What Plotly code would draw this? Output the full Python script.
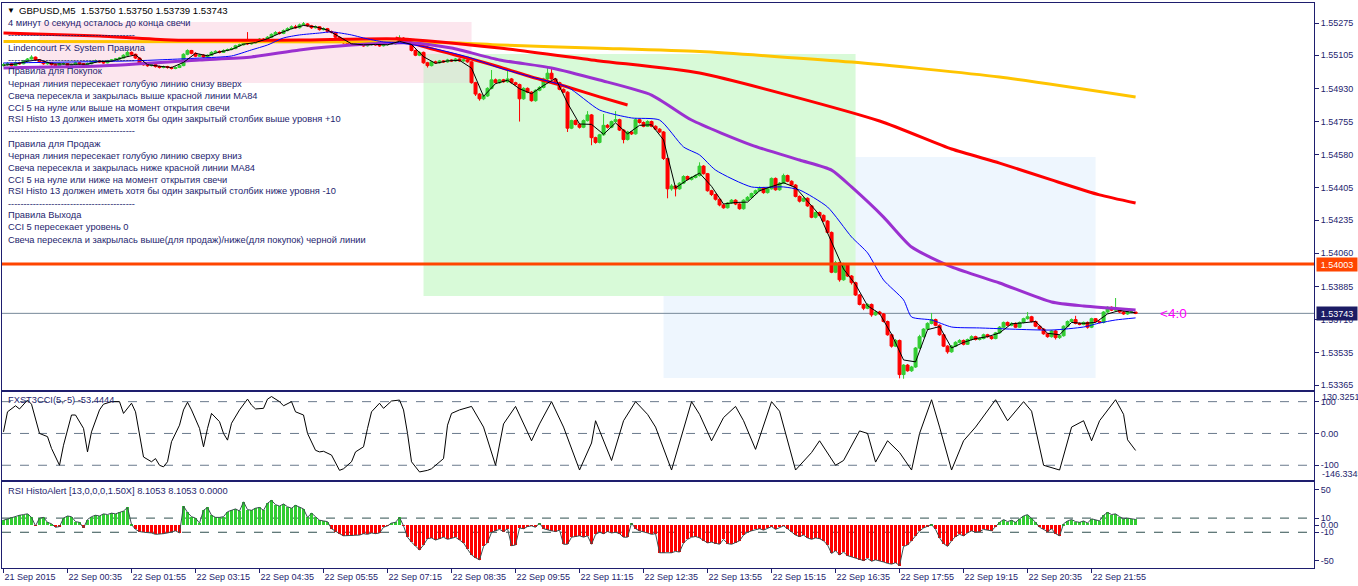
import plotly.graph_objects as go

# ---------------- DATA ----------------
N_BARS = 284
bars = list(range(N_BARS))  # M5 bars, bar 0 = 21 Sep 23:15

opens = [1.55050,1.55055,1.55060,1.55050,1.55065,1.55060,1.55075,1.55085,1.55095,1.55080,
1.55070,1.55060,1.55065,1.55055,1.55050,1.55060,1.55060,1.55050,1.55055,1.55065,
1.55060,1.55055,1.55060,1.55070,1.55075,1.55070,1.55065,1.55075,1.55080,1.55085,
1.55090,1.55105,1.55120,1.55110,1.55090,1.55060,1.55055,1.55050,1.55055,1.55045,
1.55040,1.55045,1.55040,1.55035,1.55040,1.55050,1.55110,1.55130,1.55115,1.55100,
1.55105,1.55095,1.55105,1.55120,1.55125,1.55120,1.55130,1.55135,1.55140,1.55155,
1.55160,1.55175,1.55165,1.55170,1.55180,1.55190,1.55185,1.55200,1.55215,1.55225,
1.55220,1.55235,1.55245,1.55255,1.55250,1.55265,1.55270,1.55260,1.55250,1.55255,
1.55240,1.55245,1.55230,1.55225,1.55200,1.55185,1.55170,1.55165,1.55160,1.55165,
1.55160,1.55155,1.55160,1.55165,1.55160,1.55155,1.55160,1.55165,1.55165,1.55175,
1.55195,1.55180,1.55175,1.55130,1.55105,1.55120,1.55065,1.55050,1.55070,1.55065,
1.55075,1.55070,1.55080,1.55075,1.55085,1.55075,1.55080,1.55070,1.54960,1.54900,
1.54875,1.54890,1.54930,1.54975,1.54960,1.54975,1.54965,1.54980,1.54960,1.54950,
1.54875,1.54930,1.54910,1.54865,1.54920,1.54935,1.54980,1.55010,1.54980,1.54960,
1.54925,1.54910,1.54720,1.54760,1.54740,1.54725,1.54760,1.54790,1.54670,1.54645,
1.54685,1.54735,1.54725,1.54755,1.54765,1.54710,1.54660,1.54700,1.54690,1.54765,
1.54750,1.54730,1.54755,1.54730,1.54715,1.54700,1.54560,1.54400,1.54415,1.54400,
1.54430,1.54465,1.54450,1.54460,1.54470,1.54520,1.54480,1.54390,1.54370,1.54345,
1.54315,1.54300,1.54325,1.54340,1.54320,1.54295,1.54340,1.54355,1.54375,1.54390,
1.54405,1.54380,1.54400,1.54455,1.54395,1.54430,1.54470,1.54440,1.54420,1.54360,
1.54335,1.54350,1.54310,1.54250,1.54275,1.54260,1.54230,1.54170,1.53960,1.54010,
1.53920,1.54000,1.53940,1.53905,1.53840,1.53790,1.53770,1.53790,1.53735,1.53750,
1.53740,1.53700,1.53630,1.53570,1.53600,1.53420,1.53470,1.53440,1.53460,1.53560,
1.53620,1.53660,1.53690,1.53710,1.53680,1.53630,1.53570,1.53540,1.53570,1.53590,
1.53600,1.53580,1.53605,1.53620,1.53605,1.53610,1.53630,1.53620,1.53610,1.53640,
1.53670,1.53695,1.53680,1.53690,1.53670,1.53695,1.53715,1.53725,1.53700,1.53675,
1.53660,1.53635,1.53620,1.53650,1.53615,1.53625,1.53675,1.53700,1.53710,1.53690,
1.53685,1.53695,1.53670,1.53715,1.53700,1.53695,1.53750,1.53775,1.53760,1.53765,
1.53750,1.53740,1.53750,1.53750]

highs = [1.55065,1.55068,1.55065,1.55072,1.55070,1.55080,1.55090,1.55105,1.55098,1.55085,
1.55075,1.55070,1.55068,1.55060,1.55065,1.55066,1.55063,1.55060,1.55070,1.55068,
1.55063,1.55066,1.55075,1.55082,1.55078,1.55074,1.55080,1.55085,1.55090,1.55096,
1.55110,1.55128,1.55125,1.55113,1.55093,1.55066,1.55060,1.55060,1.55058,1.55050,
1.55050,1.55049,1.55045,1.55046,1.55056,1.55115,1.55136,1.55133,1.55120,1.55112,
1.55110,1.55110,1.55126,1.55131,1.55130,1.55136,1.55140,1.55147,1.55160,1.55166,
1.55180,1.55227,1.55176,1.55185,1.55196,1.55195,1.55206,1.55220,1.55232,1.55230,
1.55241,1.55252,1.55262,1.55265,1.55272,1.55280,1.55274,1.55265,1.55262,1.55258,
1.55252,1.55249,1.55235,1.55228,1.55204,1.55189,1.55175,1.55170,1.55170,1.55169,
1.55165,1.55165,1.55170,1.55169,1.55164,1.55166,1.55170,1.55171,1.55180,1.55210,
1.55200,1.55185,1.55178,1.55135,1.55126,1.55124,1.55070,1.55075,1.55076,1.55080,
1.55079,1.55086,1.55084,1.55090,1.55088,1.55086,1.55084,1.55073,1.54965,1.54905,
1.54897,1.54936,1.55027,1.54982,1.54980,1.54980,1.55025,1.54985,1.54965,1.54955,
1.54936,1.54935,1.54915,1.54925,1.54942,1.54986,1.55040,1.55040,1.54985,1.54965,
1.54930,1.54915,1.54765,1.54766,1.54745,1.54766,1.54810,1.54795,1.54675,1.54690,
1.54795,1.54742,1.54760,1.54810,1.54770,1.54715,1.54706,1.54705,1.54772,1.54770,
1.54756,1.54762,1.54760,1.54735,1.54720,1.54705,1.54565,1.54425,1.54420,1.54435,
1.54472,1.54470,1.54466,1.54476,1.54540,1.54525,1.54484,1.54395,1.54375,1.54350,
1.54320,1.54330,1.54346,1.54345,1.54324,1.54345,1.54362,1.54380,1.54396,1.54412,
1.54410,1.54406,1.54460,1.54460,1.54436,1.54480,1.54475,1.54445,1.54425,1.54365,
1.54356,1.54355,1.54315,1.54280,1.54280,1.54265,1.54235,1.54175,1.54020,1.54015,
1.54010,1.54005,1.53945,1.53910,1.53845,1.53795,1.53796,1.53795,1.53758,1.53756,
1.53745,1.53705,1.53635,1.53608,1.53605,1.53475,1.53476,1.53466,1.53565,1.53630,
1.53665,1.53696,1.53745,1.53715,1.53685,1.53635,1.53575,1.53576,1.53596,1.53607,
1.53605,1.53610,1.53627,1.53625,1.53616,1.53636,1.53635,1.53625,1.53645,1.53676,
1.53700,1.53700,1.53696,1.53695,1.53700,1.53720,1.53750,1.53730,1.53705,1.53680,
1.53665,1.53640,1.53656,1.53655,1.53630,1.53680,1.53706,1.53716,1.53730,1.53695,
1.53700,1.53700,1.53720,1.53718,1.53705,1.53755,1.53780,1.53780,1.53824,1.53770,
1.53755,1.53755,1.53756,1.53750]

lows = [1.55045,1.55050,1.55045,1.55047,1.55055,1.55057,1.55070,1.55082,1.55075,1.55065,
1.55055,1.55055,1.55050,1.55043,1.55047,1.55054,1.55045,1.55046,1.55052,1.55055,
1.55050,1.55052,1.55057,1.55066,1.55065,1.55060,1.55062,1.55071,1.55076,1.55081,
1.55087,1.55100,1.55105,1.55085,1.55055,1.55050,1.55044,1.55046,1.55040,1.55035,
1.55036,1.55034,1.55030,1.55031,1.55037,1.55047,1.55105,1.55110,1.55095,1.55096,
1.55090,1.55090,1.55102,1.55116,1.55115,1.55117,1.55126,1.55131,1.55137,1.55150,
1.55156,1.55160,1.55161,1.55166,1.55176,1.55180,1.55182,1.55196,1.55211,1.55214,
1.55216,1.55231,1.55241,1.55245,1.55246,1.55260,1.55255,1.55244,1.55246,1.55235,
1.55236,1.55225,1.55220,1.55195,1.55180,1.55165,1.55160,1.55155,1.55156,1.55155,
1.55150,1.55151,1.55156,1.55155,1.55150,1.55151,1.55156,1.55159,1.55161,1.55171,
1.55175,1.55168,1.55125,1.55100,1.55100,1.55060,1.55040,1.55046,1.55060,1.55061,
1.55065,1.55066,1.55070,1.55071,1.55070,1.55071,1.55065,1.54955,1.54890,1.54865,
1.54868,1.54885,1.54925,1.54955,1.54955,1.54960,1.54960,1.54955,1.54944,1.54755,
1.54870,1.54905,1.54860,1.54860,1.54915,1.54930,1.54975,1.54975,1.54955,1.54920,
1.54905,1.54700,1.54715,1.54735,1.54718,1.54720,1.54755,1.54630,1.54638,1.54640,
1.54680,1.54718,1.54720,1.54750,1.54705,1.54640,1.54655,1.54684,1.54686,1.54744,
1.54725,1.54726,1.54725,1.54710,1.54694,1.54552,1.54350,1.54390,1.54360,1.54395,
1.54425,1.54444,1.54444,1.54455,1.54465,1.54475,1.54385,1.54362,1.54338,1.54308,
1.54295,1.54296,1.54320,1.54314,1.54290,1.54290,1.54335,1.54350,1.54370,1.54385,
1.54374,1.54375,1.54396,1.54390,1.54390,1.54425,1.54435,1.54414,1.54355,1.54328,
1.54330,1.54305,1.54245,1.54244,1.54255,1.54225,1.54165,1.53955,1.53955,1.53910,
1.53915,1.53935,1.53895,1.53835,1.53785,1.53760,1.53765,1.53725,1.53730,1.53735,
1.53695,1.53625,1.53562,1.53565,1.53400,1.53398,1.53435,1.53434,1.53455,1.53555,
1.53615,1.53655,1.53685,1.53675,1.53625,1.53565,1.53530,1.53535,1.53565,1.53585,
1.53574,1.53576,1.53600,1.53600,1.53600,1.53606,1.53615,1.53604,1.53606,1.53636,
1.53665,1.53675,1.53675,1.53665,1.53666,1.53690,1.53710,1.53695,1.53670,1.53655,
1.53630,1.53614,1.53615,1.53605,1.53608,1.53620,1.53670,1.53695,1.53685,1.53680,
1.53680,1.53662,1.53665,1.53695,1.53690,1.53690,1.53745,1.53755,1.53755,1.53745,
1.53735,1.53735,1.53744,1.53739]

closes = [1.55055,1.55060,1.55050,1.55065,1.55060,1.55075,1.55085,1.55095,1.55080,1.55070,
1.55060,1.55065,1.55055,1.55050,1.55060,1.55060,1.55050,1.55055,1.55065,1.55060,
1.55055,1.55060,1.55070,1.55075,1.55070,1.55065,1.55075,1.55080,1.55085,1.55090,
1.55105,1.55120,1.55110,1.55090,1.55060,1.55055,1.55050,1.55055,1.55045,1.55040,
1.55045,1.55040,1.55035,1.55040,1.55050,1.55110,1.55130,1.55115,1.55100,1.55105,
1.55095,1.55105,1.55120,1.55125,1.55120,1.55130,1.55135,1.55140,1.55155,1.55160,
1.55175,1.55165,1.55170,1.55180,1.55190,1.55185,1.55200,1.55215,1.55225,1.55220,
1.55235,1.55245,1.55255,1.55250,1.55265,1.55270,1.55260,1.55250,1.55255,1.55240,
1.55245,1.55230,1.55225,1.55200,1.55185,1.55170,1.55165,1.55160,1.55165,1.55160,
1.55155,1.55160,1.55165,1.55160,1.55155,1.55160,1.55165,1.55165,1.55175,1.55195,
1.55180,1.55175,1.55130,1.55105,1.55120,1.55065,1.55050,1.55070,1.55065,1.55075,
1.55070,1.55080,1.55075,1.55085,1.55075,1.55080,1.55070,1.54960,1.54900,1.54875,
1.54890,1.54930,1.54975,1.54960,1.54975,1.54965,1.54980,1.54960,1.54950,1.54875,
1.54930,1.54910,1.54865,1.54920,1.54935,1.54980,1.55010,1.54980,1.54960,1.54925,
1.54910,1.54720,1.54760,1.54740,1.54725,1.54760,1.54790,1.54670,1.54645,1.54685,
1.54735,1.54725,1.54755,1.54765,1.54710,1.54660,1.54700,1.54690,1.54765,1.54750,
1.54730,1.54755,1.54730,1.54715,1.54700,1.54560,1.54400,1.54415,1.54400,1.54430,
1.54465,1.54450,1.54460,1.54470,1.54520,1.54480,1.54390,1.54370,1.54345,1.54315,
1.54300,1.54325,1.54340,1.54320,1.54295,1.54340,1.54355,1.54375,1.54390,1.54405,
1.54380,1.54400,1.54455,1.54395,1.54430,1.54470,1.54440,1.54420,1.54360,1.54335,
1.54350,1.54310,1.54250,1.54275,1.54260,1.54230,1.54170,1.53960,1.54010,1.53920,
1.54000,1.53940,1.53905,1.53840,1.53790,1.53770,1.53790,1.53735,1.53750,1.53740,
1.53700,1.53630,1.53570,1.53600,1.53420,1.53470,1.53440,1.53460,1.53560,1.53620,
1.53660,1.53690,1.53710,1.53680,1.53630,1.53570,1.53540,1.53570,1.53590,1.53600,
1.53580,1.53605,1.53620,1.53605,1.53610,1.53630,1.53620,1.53610,1.53640,1.53670,
1.53695,1.53680,1.53690,1.53670,1.53695,1.53715,1.53725,1.53700,1.53675,1.53660,
1.53635,1.53620,1.53650,1.53615,1.53625,1.53675,1.53700,1.53710,1.53690,1.53685,
1.53695,1.53670,1.53715,1.53700,1.53695,1.53750,1.53775,1.53760,1.53765,1.53750,
1.53740,1.53750,1.53750,1.53743]

# Moving averages (values read at bar positions)
gold_bar = [0, 99, 114, 124, 149, 174, 212, 249, 283]
gold_val = [1.55178, 1.55175, 1.55170, 1.55159, 1.55142, 1.55124, 1.55069, 1.54990, 1.54885]

red_bar = [0, 8, 24, 42, 74, 99, 124, 149, 174, 219, 237, 249, 262, 274, 283]
red_val = [1.55222, 1.55217, 1.55206, 1.55185, 1.55185, 1.55191, 1.55143, 1.55075, 1.55011,
           1.54758, 1.54610, 1.54536, 1.54447, 1.54368, 1.54325]

red2_bar = [98, 108, 116, 124, 132, 141, 149, 156]
red2_val = [1.55196, 1.55133, 1.55090, 1.55043, 1.54990, 1.54937, 1.54885, 1.54842]

purple_bar = [0, 24, 49, 62, 74, 87, 102, 112, 124, 137, 149, 162, 172, 187, 199, 207, 212,
              220, 227, 237, 249, 262, 270, 283]
purple_val = [1.55038, 1.55048, 1.55080, 1.55096, 1.55133, 1.55159, 1.55170, 1.55143, 1.55080,
              1.55038, 1.54974, 1.54895, 1.54763, 1.54631, 1.54552, 1.54499, 1.54410, 1.54251,
              1.54093, 1.53988, 1.53903, 1.53803, 1.53782, 1.53761]

blue_bar = [0, 32, 49, 57, 62, 66, 70, 74, 79, 82, 87, 90, 95, 99, 107, 116, 124, 132, 141, 149,
            157, 164, 170, 174, 178, 187, 195, 199, 206, 212, 216, 220, 225, 227, 232, 237, 244,
            262, 270, 274, 278, 283]
blue_val = [1.55064, 1.55075, 1.55090, 1.55101, 1.55133, 1.55159, 1.55196, 1.55212, 1.55222,
            1.55228, 1.55212, 1.55196, 1.55175, 1.55170, 1.55143, 1.55096, 1.55038, 1.54990,
            1.54937, 1.54816, 1.54774, 1.54763, 1.54621, 1.54579, 1.54499, 1.54410, 1.54410,
            1.54394, 1.54304, 1.54146, 1.54062, 1.53919, 1.53814, 1.53724, 1.53708, 1.53671,
            1.53666, 1.53655, 1.53671, 1.53692, 1.53708, 1.53719]

black_bar = [0,3,6,9,12,15,18,21,24,27,30,33,36,39,42,45,48,51,54,57,60,63,66,69,72,75,78,81,
             84,87,90,93,96,99,102,105,108,111,114,117,120,123,126,129,132,135,138,141,144,147,
             150,153,156,159,162,165,168,171,174,177,180,183,186,189,192,195,198,201,204,207,
             210,213,216,219,222,225,228,231,234,237,240,243,246,249,252,255,258,261,264,267,
             270,273,276,279,282,283]
black_val = [1.55052,1.55058,1.55073,1.55082,1.55060,1.55057,1.55057,1.55058,1.55072,1.55073,
             1.55093,1.55107,1.55055,1.55047,1.55040,1.55067,1.55115,1.55102,1.55122,1.55135,
             1.55163,1.55172,1.55192,1.55220,1.55245,1.55262,1.55255,1.55238,1.55203,1.55165,
             1.55160,1.55162,1.55160,1.55178,1.55162,1.55097,1.55062,1.55075,1.55078,1.55037,
             1.54888,1.54955,1.54973,1.54928,1.54902,1.54945,1.54983,1.54852,1.54742,1.54740,
             1.54688,1.54748,1.54690,1.54735,1.54738,1.54658,1.54405,1.54448,1.54483,1.54413,
             1.54320,1.54328,1.54330,1.54390,1.54412,1.54432,1.54407,1.54332,1.54262,1.54120,
             1.53977,1.53895,1.53783,1.53742,1.53633,1.53497,1.53487,1.53657,1.53673,1.53560,
             1.53590,1.53610,1.53620,1.53640,1.53688,1.53693,1.53700,1.53638,1.53630,1.53695,
             1.53690,1.53695,1.53740,1.53758,1.53747,1.53746]

# Session rectangles (bar start, bar end, price top, price bottom)
zone_start = [9, 105, 165]
zone_end = [117, 213, 273]
zone_top = [1.55280, 1.55111, 1.54568]
zone_bottom = [1.54958, 1.53835, 1.53402]

level_price = 1.54003
bid_price = 1.53743

# FXST3CCI(5,-5)
cci_bar = [0,1,3,4,6,7,9,11,12,14,15,17,18,20,21,22,24,25,27,29,30,32,33,34,35,37,38,39,40,41,
           42,44,45,46,47,49,50,51,52,54,55,56,57,59,61,62,63,65,66,67,69,70,72,73,75,76,78,79,
           80,82,84,85,87,88,90,91,92,94,95,97,99,100,101,102,104,106,107,110,111,112,114,117,
           120,123,125,128,132,134,137,140,144,147,148,152,155,158,161,163,167,172,174,177,180,
           183,185,188,192,194,198,202,204,208,210,214,216,218,221,224,227,229,232,234,237,240,
           243,248,251,255,257,260,264,267,270,272,274,278,280,281,283]
cci_val = [5,68,87,77,105,92,0,-10,-47,-100,-37,58,58,16,-58,5,74,92,100,100,63,95,68,-5,-74,
           -89,-79,-100,-105,-89,-26,26,74,98,74,16,-42,16,63,37,0,-21,32,74,108,89,77,79,108,
           116,100,87,100,68,58,0,-53,-58,-56,-68,-116,-111,-89,-58,-42,16,68,95,79,102,105,74,
           0,-89,-121,-116,-111,-79,26,63,74,85,20,-100,30,85,-23,30,100,20,-115,-30,40,-85,40,
           100,60,20,-115,100,60,-23,50,85,40,-50,100,70,-115,-60,-23,-100,-85,8,0,-90,-23,-60,
           -115,0,106,20,-115,-23,20,106,40,100,70,-100,-115,20,40,-23,40,106,60,-20,-53.4444]
cci_max, cci_min = 130.3251, -146.3345
cci_levels = [100, 0, -100]

# RSI HistoAlert(13)
rsi_hist = [7,9,11,12,14,15,16,11,-1,10,
            11,4,2,-3,-2,10,13,12,5,4,
            -4,8,12,14,13,16,15,17,16,18,
            20,25,1,-6,-9,-10,-10,-11,-13,-13,
            -12,-11,-10,-8,-11,27,18,12,10,3,
            21,25,14,11,11,12,19,21,23,20,
            33,22,21,24,25,21,31,35,29,27,
            30,26,24,28,25,23,11,17,12,7,
            6,5,-5,-9,-12,-15,-15,-15,-14,-14,
            -12,-13,-11,-12,-11,-3,-1,3,4,11,
            -1,-17,-24,-30,-35,-28,-19,-18,-21,-19,
            -17,-20,-18,-17,-21,-25,-34,-42,-46,-49,
            -30,-25,-10,-8,-6,-9,-5,-29,-28,-4,
            -5,-2,-1,-3,3,-5,-7,-8,-9,-7,
            -27,-27,-17,-16,-15,-17,-15,-27,-13,-10,
            -12,-9,-11,-10,-12,-17,-17,3,-5,-8,
            -9,-11,-13,-12,-39,-39,-38,-39,-37,-38,
            -25,-20,-17,-16,-18,-22,-25,-24,-26,-27,
            -20,-26,-27,-25,-22,-14,-10,-8,-6,-5,
            -7,-4,-2,-6,-3,-1,-5,-9,-14,-16,
            -14,-18,-20,-18,-19,-22,-28,-40,-36,-42,
            -38,-43,-45,-47,-49,-50,-47,-51,-49,-50,
            -52,-54,-55,-53,-57,-30,-28,-22,-15,-8,
            -4,-2,1,-6,-18,-26,-30,-22,-16,-13,
            -15,-11,-8,-10,-9,-6,-7,-8,-2,4,
            8,5,7,4,9,13,15,10,4,-3,
            -6,-9,-5,-12,-15,2,6,8,5,4,
            6,3,9,7,6,14,18,15,16,12,
            9,10,9,8.1053]
rsi_levels = [10, -10]

# Axis ticks
price_ticks = [1.55275, 1.55105, 1.54930, 1.54755, 1.54580, 1.54405, 1.54235, 1.54060,
               1.53885, 1.53710, 1.53535, 1.53365]
time_tick_bars = [0, 16, 32, 48, 64, 80, 96, 112, 128, 144, 160, 176, 192, 208, 224, 240, 256, 272]
time_tick_labels = ["21 Sep 2015", "22 Sep 00:35", "22 Sep 01:55", "22 Sep 03:15", "22 Sep 04:35",
                    "22 Sep 05:55", "22 Sep 07:15", "22 Sep 08:35", "22 Sep 09:55", "22 Sep 11:15",
                    "22 Sep 12:35", "22 Sep 13:55", "22 Sep 15:15", "22 Sep 16:35", "22 Sep 17:55",
                    "22 Sep 19:15", "22 Sep 20:35", "22 Sep 21:55"]
rsi_ticks = [50, 10, 0, -10, -50]
rsi_tick_text = ["50", "10", "0.00", "-10", "-50"]

header_text = "GBPUSD,M5  1.53750 1.53750 1.53739 1.53743"
info_lines = [
    "4 минут 0 секунд осталось до конца свечи",
    "-----------------------------------------",
    "Lindencourt FX System Правила",
    "-----------------------------------------",
    "Правила для Покупок",
    "Черная линия пересекает голубую линию снизу вверх",
    "Свеча пересекла и закрылась выше красной линии MA84",
    "CCI 5 на нуле или выше на момент открытия свечи",
    "RSI Histo 13 должен иметь хотя бы один закрытый столбик выше уровня +10",
    "-----------------------------------------",
    "Правила для Продаж",
    "Черная линия пересекает голубую линию сверху вниз",
    "Свеча пересекла и закрылась ниже красной линии MA84",
    "CCI 5 на нуле или ниже на момент открытия свечи",
    "RSI Histo 13 должен иметь хотя бы один закрытый столбик ниже уровня -10",
    "-----------------------------------------",
    "Правила Выхода",
    "CCI 5 пересекает уровень 0",
    "Свеча пересекла и закрылась выше(для продаж)/ниже(для покупок) черной линии",
]
cci_label = "FXST3CCI(5,-5) -53.4444"
rsi_label = "RSI HistoAlert [13,0,0,0,1.50X] 8.1053 8.1053 0.0000"
timer_text = "<4:0"

# ---------------- STYLE ----------------
W, H = 1358, 586
FONT = "Liberation Sans, Arial, sans-serif"
NAVY = "#1e1e6e"
GREEN = "#32CD32"
RED = "#FF0000"
ZONE_COLORS = ["#FCE6EE", "#D8FAD8", "#EEF6FE"]
OVERLAP_COLOR = "#DCEBD8"

def px(x):
    return x / W

def py(y):
    return 1 - y / H

X_RANGE = [-0.375, 327.6]
XDOM = [px(2), px(1314)]

fig = go.Figure()

for k in [2, 1, 0]:
    fig.add_shape(type="rect", xref="x", yref="y", x0=zone_start[k], x1=zone_end[k],
                  y0=zone_bottom[k], y1=zone_top[k], fillcolor=ZONE_COLORS[k],
                  line_width=0, layer="below")
fig.add_shape(type="rect", xref="x", yref="y",
              x0=max(zone_start[0], zone_start[1]), x1=min(zone_end[0], zone_end[1]),
              y0=max(zone_bottom[0], zone_bottom[1]), y1=min(zone_top[0], zone_top[1]),
              fillcolor=OVERLAP_COLOR, line_width=0, layer="below")
# bid line (data-referenced so it is drawn above the session boxes)
fig.add_shape(type="line", xref="x", yref="y", x0=X_RANGE[0], x1=X_RANGE[1],
              y0=bid_price, y1=bid_price, line=dict(color="#778899", width=1), layer="below")

fig.add_trace(go.Candlestick(
    x=bars, open=opens, high=highs, low=lows, close=closes,
    increasing=dict(line=dict(color=GREEN, width=1), fillcolor=GREEN),
    decreasing=dict(line=dict(color=RED, width=1), fillcolor=RED),
    whiskerwidth=0, showlegend=False, hoverinfo="skip", xaxis="x", yaxis="y"))

def line(xs, ys, color, width, xa="x", ya="y", shape="spline"):
    fig.add_trace(go.Scatter(x=xs, y=ys, mode="lines",
                             line=dict(color=color, width=width, shape=shape, smoothing=0.6),
                             showlegend=False, hoverinfo="skip", xaxis=xa, yaxis=ya))

line(gold_bar, gold_val, "#FFC400", 3)
line(red_bar, red_val, RED, 3)
line(red2_bar, red2_val, RED, 3)
line(purple_bar, purple_val, "#9B30D0", 3)
line(blue_bar, blue_val, "#0000FF", 1)
line(black_bar, black_val, "#000000", 1, shape="linear")

fig.add_shape(type="line", xref="x", yref="y", x0=X_RANGE[0], x1=X_RANGE[1],
              y0=level_price, y1=level_price, line=dict(color="#FF4500", width=3), layer="above")

# CCI panel
line(cci_bar, cci_val, "#000000", 1, "x2", "y2", shape="linear")
for lv in cci_levels:
    fig.add_shape(type="line", xref="x2", yref="y2", x0=X_RANGE[0], x1=X_RANGE[1], y0=lv, y1=lv,
                  line=dict(color="#6A7A8C", width=1, dash="dash"), layer="below")

# RSI panel
rsi_colors = [GREEN if v > 0 else RED for v in rsi_hist]
fig.add_trace(go.Bar(x=bars, y=rsi_hist, marker=dict(color=rsi_colors, line_width=0), width=0.75,
                     showlegend=False, hoverinfo="skip", xaxis="x3", yaxis="y3"))
line(bars, rsi_hist, "#3A5050", 1, "x3", "y3", shape="linear")
for lv in rsi_levels:
    fig.add_shape(type="line", xref="x3", yref="y3", x0=X_RANGE[0], x1=X_RANGE[1], y0=lv, y1=lv,
                  line=dict(color="#2F4F4F", width=1, dash="dash"), layer="below")

annotations = []
TXT = dict(family=FONT, size=9.3, color=NAVY)
annotations.append(dict(text="▼", x=px(5), y=py(10.5), xref="paper", yref="paper",
                        xanchor="left", yanchor="middle", showarrow=False,
                        font=dict(family=FONT, size=8, color="#000000")))
annotations.append(dict(text=header_text, x=px(17), y=py(10.5), xref="paper", yref="paper",
                        xanchor="left", yanchor="middle", showarrow=False,
                        font=dict(family=FONT, size=9.6, color="#000000")))
for n, t in enumerate(info_lines):
    annotations.append(dict(text=t, x=px(6), y=py(23.5 + 12 * n), xref="paper", yref="paper",
                            xanchor="left", yanchor="middle", showarrow=False, font=TXT))
annotations.append(dict(text=cci_label, x=px(6), y=py(400), xref="paper", yref="paper",
                        xanchor="left", yanchor="middle", showarrow=False, font=TXT))
annotations.append(dict(text=rsi_label, x=px(6), y=py(491), xref="paper", yref="paper",
                        xanchor="left", yanchor="middle", showarrow=False, font=TXT))
AX = dict(family=FONT, size=9, color=NAVY)
annotations.append(dict(text=f"{cci_max:.4f}", x=px(1320), y=py(397), xref="paper", yref="paper",
                        xanchor="left", yanchor="middle", showarrow=False, font=AX))
annotations.append(dict(text=f"{cci_min:.4f}", x=px(1320), y=py(474), xref="paper", yref="paper",
                        xanchor="left", yanchor="middle", showarrow=False, font=AX))
annotations.append(dict(text=f"{level_price:.5f}", x=px(1316), y=level_price, xref="paper",
                        yref="y", xanchor="left", yanchor="middle", showarrow=False,
                        bgcolor="#FF4500", borderpad=1, width=38, height=11,
                        font=dict(family=FONT, size=9, color="#FFFFFF")))
annotations.append(dict(text=f"{bid_price:.5f}", x=px(1316), y=bid_price, xref="paper",
                        yref="y", xanchor="left", yanchor="middle", showarrow=False,
                        bgcolor="#1C1C64", borderpad=1, width=38, height=11,
                        font=dict(family=FONT, size=9, color="#FFFFFF")))
annotations.append(dict(text=timer_text.replace("<", "&lt;"), x=px(1158), y=bid_price,
                        xref="paper", yref="y", xanchor="left", yanchor="middle",
                        showarrow=False, font=dict(family=FONT, size=13.5, color="#FF00FF")))

common_x = dict(domain=XDOM, range=X_RANGE, showgrid=False, zeroline=False, showline=True,
                mirror=True, linecolor=NAVY, linewidth=1, fixedrange=True, automargin=False)
common_y = dict(side="right", showgrid=False, zeroline=False, showline=True, mirror=True,
                linecolor=NAVY, linewidth=1, ticks="outside", ticklen=4, tickcolor=NAVY,
                tickfont=AX, fixedrange=True, automargin=False)

fig.update_layout(
    width=W, height=H, autosize=False,
    margin=dict(l=0, r=0, t=0, b=0, pad=0),
    paper_bgcolor="#FFFFFF", plot_bgcolor="#FFFFFF",
    showlegend=False, boxgap=0.25, boxgroupgap=0, bargap=0,
    xaxis=dict(**common_x, anchor="y", showticklabels=False, ticks="",
               rangeslider=dict(visible=False)),
    yaxis=dict(**common_y, anchor="x", domain=[py(390), py(3)], range=[1.533386, 1.553805],
               tickvals=price_ticks, ticktext=[f"{v:.5f}" for v in price_ticks]),
    xaxis2=dict(**common_x, anchor="y2", showticklabels=False, ticks=""),
    yaxis2=dict(**common_y, anchor="x2", domain=[py(480), py(392)], range=[cci_min, cci_max],
                tickvals=cci_levels, ticktext=["100", "0.00", "-100"]),
    xaxis3=dict(**common_x, anchor="y3", tickvals=time_tick_bars, ticktext=time_tick_labels,
                ticks="outside", ticklen=4, tickcolor=NAVY, tickfont=AX, tickangle=0,
                ticklabelposition="outside right"),
    yaxis3=dict(**common_y, anchor="x3", domain=[py(568), py(482)], range=[-60.5, 61],
                tickvals=rsi_ticks, ticktext=rsi_tick_text),
    annotations=annotations,
)

fig.write_html("out.html")
